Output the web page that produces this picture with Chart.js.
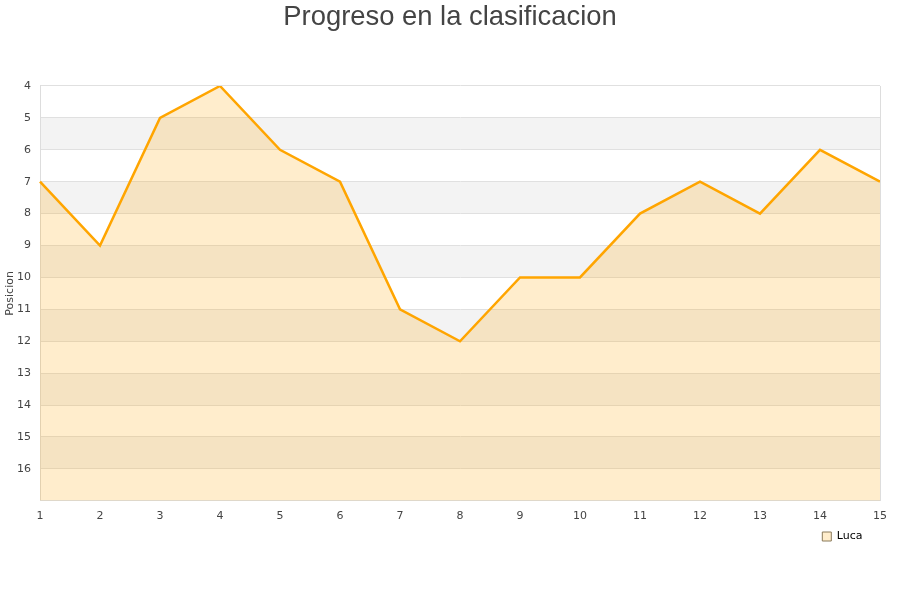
<!DOCTYPE html>
<html>
<head>
<meta charset="utf-8">
<script src="https://cdn.jsdelivr.net/npm/chart.js@4"></script>
<style>
html,body{margin:0;padding:0;background:#fff;}
#wrap{width:900px;height:600px;}
</style>
</head>
<body>
<div id="wrap"><canvas id="c" width="900" height="600"></canvas></div>
<script>
const titleText = 'Progreso en la clasificacion';
const seriesName = 'Luca';
const yAxisTitle = 'Posicion';
const categories = ['1','2','3','4','5','6','7','8','9','10','11','12','13','14','15'];
const positions = [7, 9, 5, 4, 6, 7, 11, 12, 10, 10, 8, 7, 8, 6, 7];
const yMin = 4;
const yMax = 17;
const shadedBandStarts = [5, 7, 9, 11, 13, 15];

const bandsPlugin = {
  id: 'bands',
  afterLayout(chart) {
    if (chart.legend) {
      chart.legend.right = chart.legend.right - 27.5;
    }
  },
  beforeDraw(chart) {
    const {ctx, chartArea, scales} = chart;
    ctx.save();
    ctx.fillStyle = '#ffffff';
    ctx.fillRect(0, 0, chart.width, chart.height);
    ctx.fillStyle = '#f3f3f3';
    shadedBandStarts.forEach(s => {
      const y1 = scales.y.getPixelForValue(s);
      const y2 = scales.y.getPixelForValue(s + 1);
      ctx.fillRect(chartArea.left, Math.min(y1, y2), chartArea.right - chartArea.left, Math.abs(y2 - y1));
    });
    ctx.restore();
  },
  afterDraw(chart) {
    const {ctx, chartArea} = chart;
    ctx.save();
    ctx.strokeStyle = '#dddddd';
    ctx.lineWidth = 1;
    ctx.beginPath();
    ctx.moveTo(Math.round(chartArea.right) + 0.5, chartArea.top);
    ctx.lineTo(Math.round(chartArea.right) + 0.5, chartArea.bottom);
    ctx.stroke();
    ctx.restore();
  }
};

new Chart(document.getElementById('c'), {
  type: 'line',
  data: {
    labels: categories,
    datasets: [{
      label: seriesName,
      data: positions,
      borderColor: '#ffa500',
      backgroundColor: 'rgba(255,165,0,0.2)',
      borderWidth: 2.5,
      pointRadius: 0,
      pointHoverRadius: 0,
      tension: 0,
      fill: 'start',
      yAxisID: 'y'
    }]
  },
  options: {
    responsive: false,
    animation: false,
    devicePixelRatio: 1,
    layout: { padding: { top: 0, right: 0, bottom: 48, left: 0 } },
    plugins: {
      title: {
        display: true,
        text: titleText,
        color: '#444444',
        font: { family: 'Liberation Sans, Arial, sans-serif', size: 27.4, weight: 'normal' },
        padding: { top: 1, bottom: 52.1 }
      },
      legend: {
        display: true,
        position: 'bottom',
        align: 'end',
        labels: {
          boxWidth: 9,
          boxHeight: 9,
          color: '#000000',
          font: { family: 'DejaVu Sans, sans-serif', size: 11 },
          padding: 10,
          generateLabels(chart) {
            const ds = chart.data.datasets[0];
            return [{
              text: ds.label,
              fillStyle: 'rgba(255,165,0,0.2)',
              strokeStyle: '#8a7a5a',
              lineWidth: 1,
              datasetIndex: 0
            }];
          }
        }
      },
      tooltip: { enabled: false }
    },
    scales: {
      x: {
        type: 'category',
        offset: false,
        grid: { display: false, drawTicks: false },
        border: { display: true, color: '#dddddd' },
        ticks: {
          color: '#444444',
          font: { family: 'DejaVu Sans, sans-serif', size: 11 },
          padding: 9,
          maxRotation: 0,
          autoSkip: false
        },
        afterFit(scale) { scale.height = 20.2; }
      },
      y: {
        reverse: true,
        min: yMin,
        max: yMax,
        grid: { color: '#e0e0e0', drawTicks: false },
        border: { display: true, color: '#dddddd' },
        ticks: {
          stepSize: 1,
          color: '#444444',
          font: { family: 'DejaVu Sans, sans-serif', size: 11 },
          padding: 9,
          callback: (v) => (v === yMax ? '' : String(v))
        },
        title: {
          display: true,
          text: yAxisTitle,
          color: '#444444',
          font: { family: 'DejaVu Sans, sans-serif', size: 11 },
          padding: { top: 4, bottom: 0 }
        },
        afterFit(scale) { scale.width = 40; }
      },
      yRight: {
        position: 'right',
        display: true,
        grid: { display: false, drawTicks: false },
        border: { display: false },
        ticks: { display: false },
        afterFit(scale) { scale.width = 20; }
      }
    }
  },
  plugins: [bandsPlugin]
});
</script>
</body>
</html>
